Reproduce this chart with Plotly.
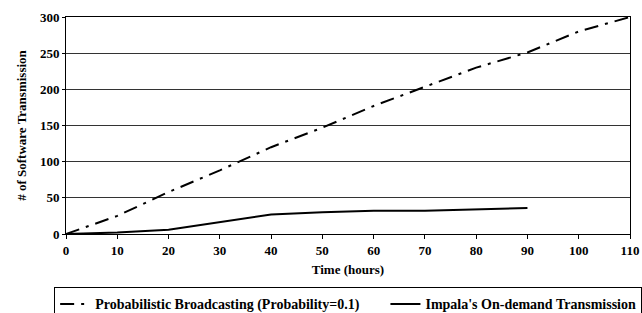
import plotly.graph_objects as go

time_hours = [0, 10, 20, 30, 40, 50, 60, 70, 80, 90, 100, 110]
broadcast = [0, 25, 58, 88, 120, 147, 177, 203, 230, 251, 280, 300]
impala_time = [0, 10, 20, 30, 40, 50, 60, 70, 80, 90]
impala = [0, 2, 6, 16, 27, 30, 32, 32, 34, 36]
x_ticks = list(range(0, 111, 10))
y_ticks = list(range(0, 301, 50))

font_family = "Liberation Serif"
tfont = dict(family=font_family, size=13, color="black")

fig = go.Figure()
fig.add_trace(go.Scatter(
    x=time_hours, y=broadcast, mode="lines",
    name="<b>Probabilistic Broadcasting (Probability=0.1)</b>" + "\u00a0" * 6,
    line=dict(color="black", width=2, dash="14px,7px,3px,7px"),
))
fig.add_trace(go.Scatter(
    x=impala_time, y=impala, mode="lines",
    name="<b>Impala's On-demand Transmission</b>",
    line=dict(color="black", width=2),
))

fig.update_layout(
    width=642, height=313,
    margin=dict(l=66, r=12, t=17, b=79, autoexpand=False),
    paper_bgcolor="white", plot_bgcolor="white",
    font=tfont,
    showlegend=True,
    legend=dict(
        orientation="h", x=-0.021, xanchor="left", y=-0.246, yanchor="top",
        bordercolor="black", borderwidth=1, font=dict(size=14, family=font_family, color="black"),
        itemwidth=30, tracegroupgap=0,
    ),
    xaxis=dict(
        range=[0, 110], tickmode="array", tickvals=x_ticks,
        ticktext=[f"<b>{v}</b>" for v in x_ticks], tickfont=tfont,
        showgrid=False, zeroline=False, showline=True, linecolor="black", linewidth=1,
        mirror=True, ticks="outside", ticklen=4, tickcolor="black",
        title=dict(text="<b>Time (hours)</b>", font=tfont, standoff=8),
    ),
    yaxis=dict(
        range=[0, 300], tickmode="array", tickvals=y_ticks,
        ticktext=[f"<b>{v}</b>" for v in y_ticks], tickfont=tfont,
        showgrid=True, gridcolor="#333", gridwidth=1, zeroline=False,
        showline=True, linecolor="black", linewidth=1, mirror=True,
        ticks="outside", ticklen=3, tickcolor="black",
        title=dict(text="<b># of Software Transmission</b>", font=tfont, standoff=10),
    ),
)

fig.write_html(
    "out.html",
    config={"displayModeBar": False},
    post_script="document.body.style.margin='0';document.body.style.overflow='hidden';",
)
